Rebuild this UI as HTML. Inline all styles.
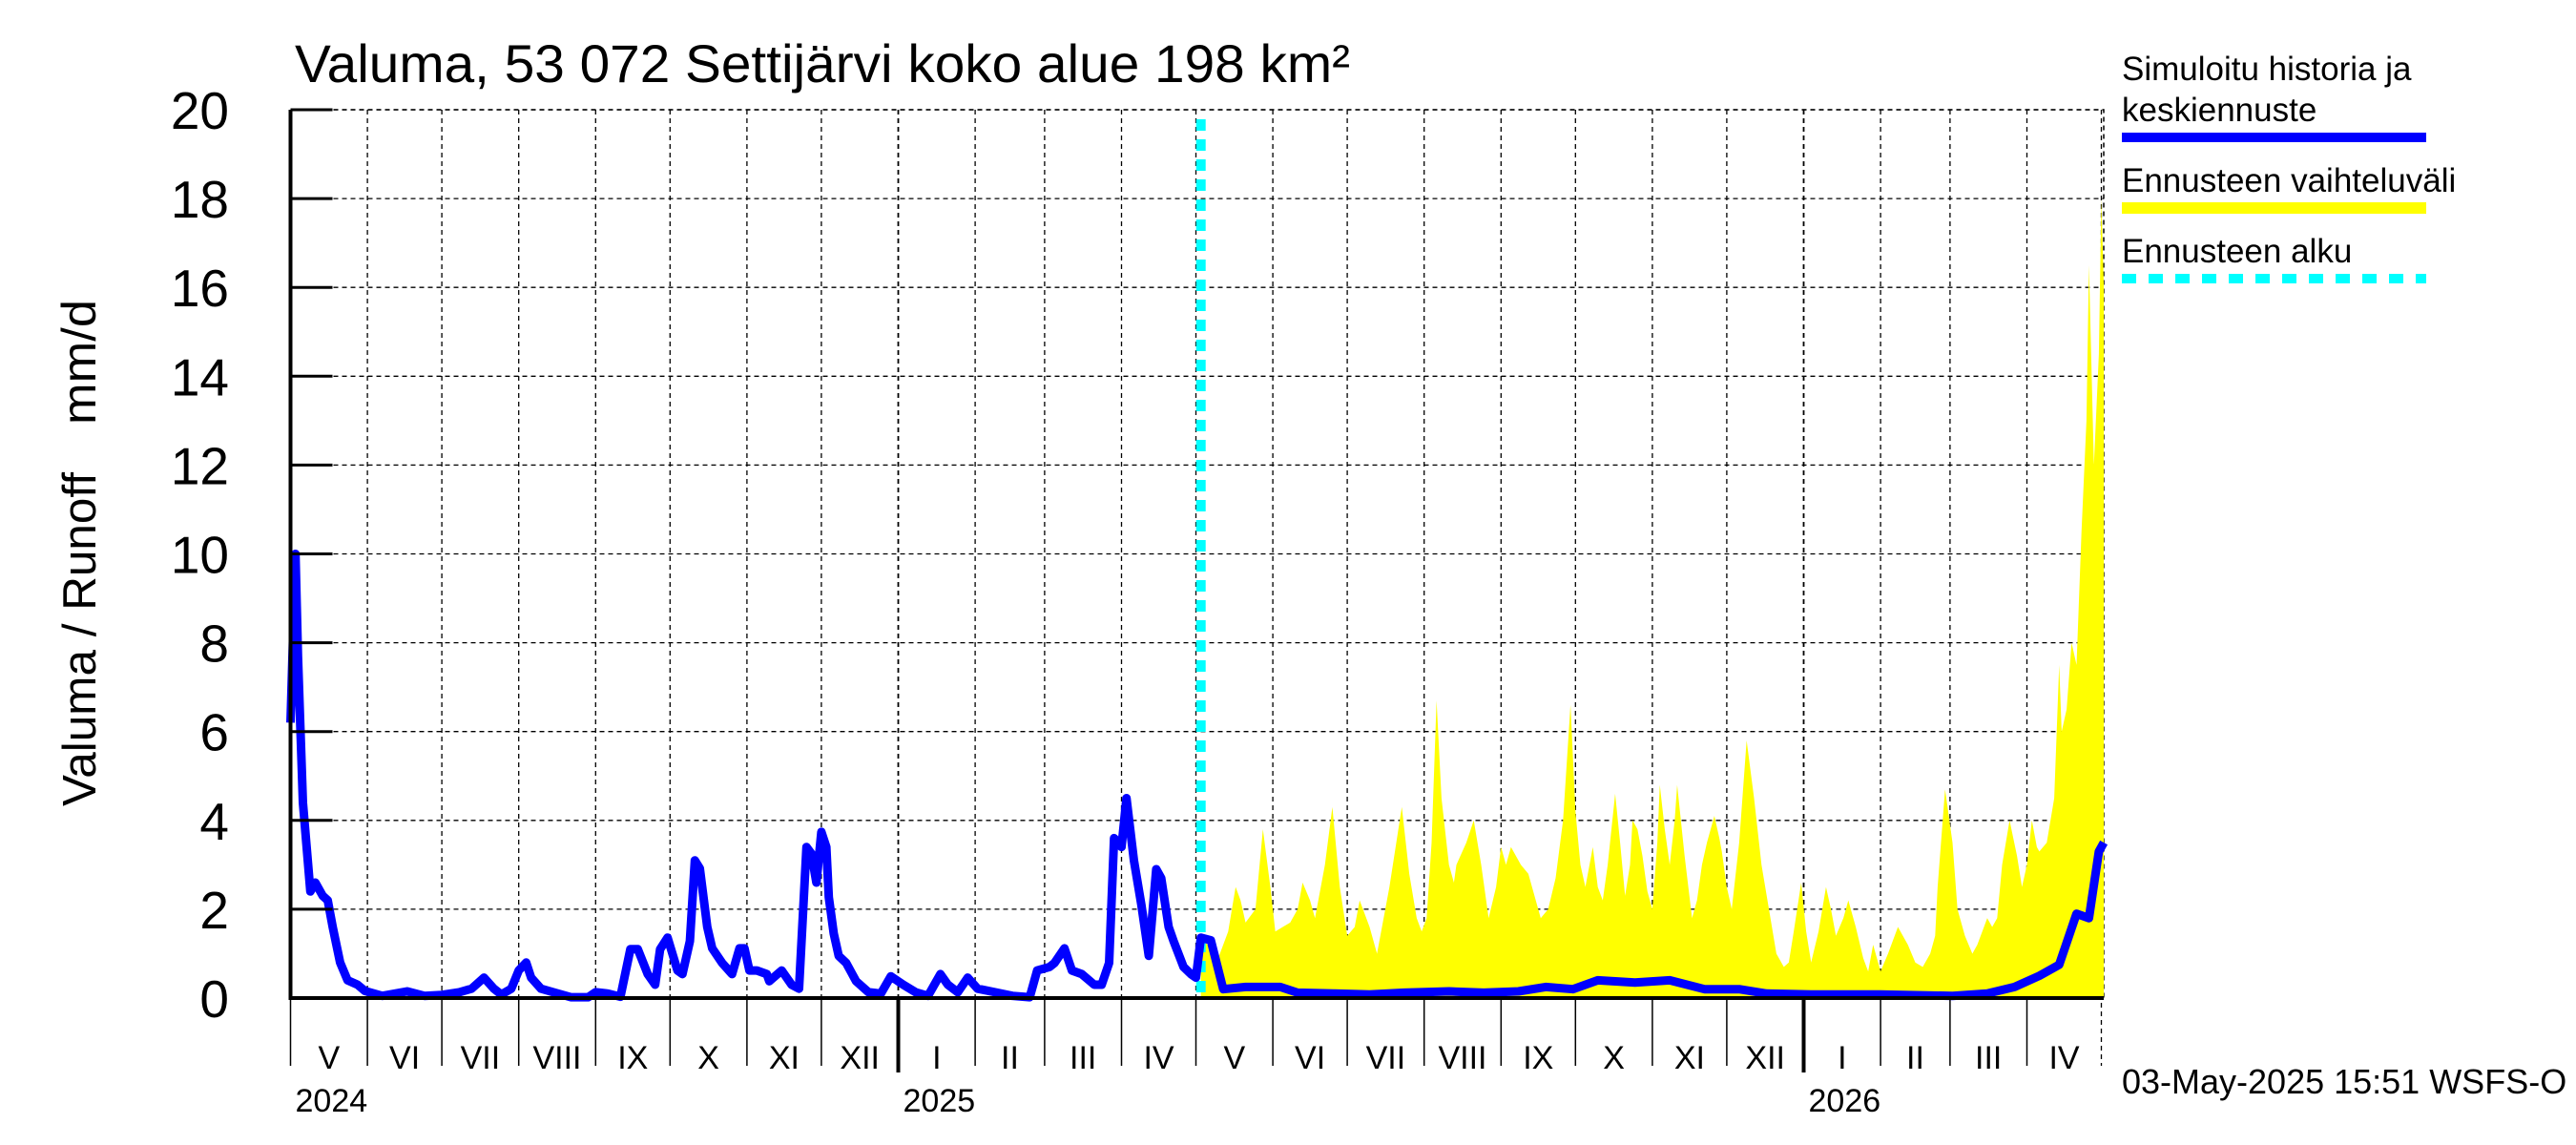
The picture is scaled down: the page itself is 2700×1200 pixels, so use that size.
<!DOCTYPE html>
<html><head><meta charset="utf-8"><style>
html,body{margin:0;padding:0;background:#fff;}
svg{display:block;font-family:"Liberation Sans",Arial,sans-serif;}
</style></head><body>
<svg id="chart" width="2700" height="1200" viewBox="0 0 2700 1200" xmlns="http://www.w3.org/2000/svg">
<rect width="2700" height="1200" fill="#fff"/>
<text x="309" y="86" font-size="56" textLength="1106" lengthAdjust="spacingAndGlyphs">Valuma, 53 072 Settijärvi koko alue 198 km²</text>
<text transform="translate(100,845) rotate(-90)" font-size="49" textLength="350" lengthAdjust="spacingAndGlyphs">Valuma / Runoff</text>
<text transform="translate(100,445) rotate(-90)" font-size="50" textLength="131" lengthAdjust="spacingAndGlyphs">mm/d</text>
<g id="grid"></g>
<g id="band"></g>
<g id="series"></g>
<g id="axes"></g>
<g>
<text x="2224" y="84" font-size="35">Simuloitu historia ja</text>
<text x="2224" y="127" font-size="35">keskiennuste</text>
<line x1="2224" y1="144" x2="2543" y2="144" stroke="#0000ff" stroke-width="10"/>
<text x="2224" y="201" font-size="35">Ennusteen vaihteluväli</text>
<line x1="2224" y1="218" x2="2543" y2="218" stroke="#ffff00" stroke-width="12"/>
<text x="2224" y="275" font-size="35">Ennusteen alku</text>
<line x1="2224" y1="292" x2="2543" y2="292" stroke="#00ffff" stroke-width="10" stroke-dasharray="15 13"/>
</g>
<text x="2224" y="1146" font-size="36">03-May-2025 15:51 WSFS-O</text>
</svg>
<script>
// ---- data ----
const yTicks = [0,2,4,6,8,10,12,14,16,18,20];
const monthLabels = ["V","VI","VII","VIII","IX","X","XI","XII","I","II","III","IV","V","VI","VII","VIII","IX","X","XI","XII","I","II","III","IV"];
const monthLengths = [31,30,31,31,30,31,30,31,31,28,31,30,31,30,31,31,30,31,30,31,31,28,31,30];
const yearLabels = ["2024","2025","2026"];
const yearStartMonth = [0,8,20];
const forecastStartDay = 367;
const histDays = [0,2,3,5,8,10,13,15,17,20,23,27,30,37,47,54,61,68,73,78,82,85,89,92,95,97,101,106,113,120,123,128,133,137,140,144,147,149,152,156,158,161,163,165,168,170,174,178,181,183,185,188,192,193,198,202,205,208,210,212,214,216,217,219,221,224,228,233,238,242,247,252,257,262,265,269,273,277,284,291,298,301,306,308,312,315,319,324,327,330,332,335,337,340,343,346,349,351,354,356,360,363,365,367];
const histVals = [6.2,10,7.7,4.4,2.4,2.6,2.3,2.2,1.6,0.8,0.4,0.3,0.16,0.05,0.15,0.05,0.07,0.13,0.21,0.46,0.21,0.08,0.21,0.62,0.8,0.46,0.21,0.13,0.02,0.02,0.13,0.1,0.03,1.1,1.1,0.54,0.3,1.1,1.36,0.62,0.54,1.28,3.1,2.92,1.6,1.12,0.79,0.54,1.12,1.12,0.62,0.62,0.54,0.38,0.62,0.3,0.21,3.4,3.25,2.6,3.74,3.4,2.27,1.45,0.95,0.79,0.38,0.13,0.1,0.49,0.3,0.13,0.05,0.54,0.3,0.13,0.46,0.21,0.13,0.05,0.02,0.62,0.7,0.79,1.12,0.62,0.54,0.3,0.3,0.79,3.6,3.4,4.5,3.1,2.1,0.95,2.9,2.7,1.6,1.28,0.7,0.54,0.46,1.36];
const fcDays = [367,371,376,385,399,406,421,435,449,467,481,495,506,517,527,542,556,570,584,595,613,641,670,684,695,705,713,720,725,729,731];
const fcVals = [1.2,1.3,0.2,0.25,0.25,0.12,0.1,0.08,0.12,0.15,0.12,0.15,0.25,0.2,0.4,0.35,0.4,0.2,0.2,0.1,0.08,0.08,0.05,0.1,0.25,0.5,0.75,1.9,1.8,3.3,3.5];
const bandDays = [367,370,374,378,381,383,385,389,392,395,397,400,403,406,408,411,413,417,420,423,426,429,431,435,438,443,448,451,454,456,458,460,462,464,467,469,470,474,477,480,483,486,488,490,492,496,499,502,504,507,510,513,516,518,520,522,525,527,529,531,534,536,538,540,541,543,545,547,549,551,552,554,556,558,559,562,565,567,569,571,574,576,577,579,581,584,587,590,593,596,599,602,604,606,609,611,613,616,619,621,623,626,628,631,634,636,638,640,641,644,648,652,655,658,661,663,664,667,670,672,675,678,680,682,684,686,688,690,693,696,698,700,702,704,705,708,711,713,714,716,718,720,722,724,725,727,729,730,731];
const bandVals = [1.3,1.2,0.9,1.5,2.5,2.2,1.7,2.0,3.8,2.5,1.5,1.6,1.7,2.0,2.6,2.2,1.8,3.0,4.3,2.5,1.4,1.6,2.2,1.6,1.0,2.5,4.3,2.8,1.8,1.5,1.8,3.5,6.7,4.5,3.0,2.6,3.0,3.5,4.0,3.0,1.8,2.5,3.4,3.0,3.4,3.0,2.8,2.2,1.8,2.0,2.7,4.0,6.6,4.2,3.0,2.5,3.4,2.5,2.2,3.0,4.6,3.5,2.3,3.0,4.0,3.8,3.2,2.4,2.0,3.5,4.8,3.8,3.0,4.0,4.8,3.2,1.8,2.2,3.0,3.5,4.1,3.6,3.3,2.5,2.0,3.5,5.8,4.5,3.0,2.0,1.0,0.7,0.8,1.5,2.6,1.5,0.8,1.5,2.5,2.0,1.4,1.8,2.2,1.6,0.9,0.6,1.2,0.8,0.6,1.0,1.6,1.2,0.8,0.7,1.0,1.4,2.5,4.7,3.5,2.0,1.4,1.0,1.2,1.5,1.8,1.6,1.8,3.0,4.0,3.2,2.5,3.0,4.0,3.4,3.3,3.5,4.5,7.5,6.0,6.5,8.0,7.5,10.5,13.0,16.5,12.0,14.5,18.0,16.0];
// ---- scales ----
const X0=304.5, PXD=2.6, Y0=1046, YU=46.55, RIGHT=2205, TOP=115;
function xs(d){return X0+d*PXD;}
function ys(v){return Y0-v*YU;}
const NS="http://www.w3.org/2000/svg";
function mk(tag,attrs,parent){const e=document.createElementNS(NS,tag);for(const k in attrs)e.setAttribute(k,attrs[k]);parent.appendChild(e);return e;}
const grid=document.getElementById('grid'), axes=document.getElementById('axes'), band=document.getElementById('band'), series=document.getElementById('series');
yTicks.forEach(v=>{
  if(v>0){const g=mk('line',{x1:X0,x2:RIGHT,y1:ys(v),y2:ys(v),stroke:'#000','stroke-width':1.3,'stroke-dasharray':'5 4'},grid);
  
  }
  const t=mk('line',{x1:X0,x2:X0+44,y1:ys(v),y2:ys(v),stroke:'#000','stroke-width':3},axes);
  
  
  const l=mk('text',{x:240,y:ys(v)+20,'text-anchor':'end','font-size':55},axes);
  l.textContent=String(v);
  
  
});
let day=0;
monthLabels.forEach((m,i)=>{
  const xa=xs(day), xb=xs(day+monthLengths[i]);
  const isYear=yearStartMonth.includes(i)&&i>0;
  if(i>0){const g=mk('line',{x1:xa,x2:xa,y1:TOP,y2:Y0,stroke:'#000','stroke-width':isYear?1.8:1.3,'stroke-dasharray':'5 4'},grid);
  
  }
  const tk=mk('line',{x1:xa,x2:xa,y1:Y0,y2:isYear?1124:1117,stroke:'#000','stroke-width':isYear?4:1.5},axes);
  
  
  const t=mk('text',{x:(xa+xb)/2,y:1120,'text-anchor':'middle','font-size':34},axes);
  t.textContent=m;
  
  
  const yi=yearStartMonth.indexOf(i);
  if(yi>=0){const yl=mk('text',{x:xa+5,y:1165,'font-size':34},axes);
    yl.textContent=yearLabels[yi];
    
    }
  day+=monthLengths[i];
});
const endTick=mk('line',{x1:xs(day),x2:xs(day),y1:TOP,y2:1117,stroke:'#000','stroke-width':1.3,'stroke-dasharray':'5 4'},grid);


const fr=mk('path',{d:`M${X0},${TOP}H${RIGHT}V${Y0}`,fill:'none',stroke:'#000','stroke-width':1.5,'stroke-dasharray':'5 4'},grid);


let d='M'+xs(bandDays[0])+','+ys(0);
bandDays.forEach((dd,i)=>{d+=' L'+xs(dd).toFixed(1)+','+ys(bandVals[i]).toFixed(1);});
d+=' L'+xs(bandDays[bandDays.length-1])+','+ys(0)+' Z';
const bp=mk('path',{d:d,fill:'#ffff00',stroke:'none'},band);


const fl=mk('line',{x1:xs(forecastStartDay),x2:xs(forecastStartDay),y1:TOP+10,y2:Y0,stroke:'#00ffff','stroke-width':10,'stroke-dasharray':'12 9'},series);


const allD=histDays.concat(fcDays.slice(1)), allV=histVals.concat(fcVals.slice(1));
const pts=allD.map((dd,i)=>xs(dd).toFixed(1)+','+ys(allV[i]).toFixed(1)).join(' ');
const pl=mk('polyline',{points:pts,fill:'none',stroke:'#0000ff','stroke-width':9,'stroke-linejoin':'round'},series);


const ax=mk('path',{d:`M${X0},${TOP}V${Y0}H${RIGHT}`,fill:'none',stroke:'#000','stroke-width':4},axes);


</script>
</body></html>
